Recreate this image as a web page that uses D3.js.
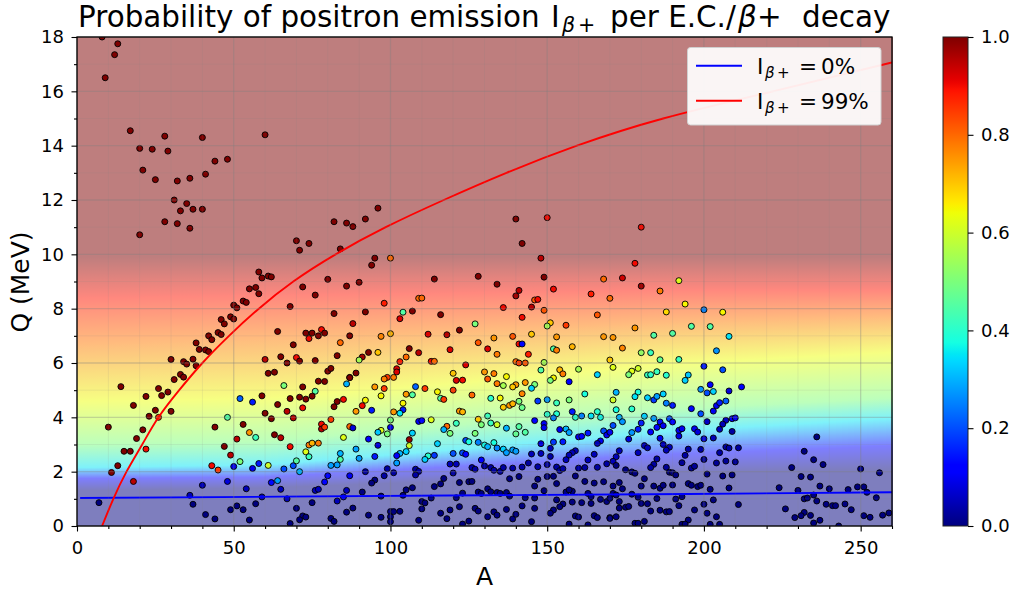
<!DOCTYPE html>
<html>
<head>
<meta charset="utf-8">
<title>Probability of positron emission</title>
<script src="https://d3js.org/d3.v7.min.js"></script>
<style>
    body{margin:0;padding:0;background:white;}
    svg{display:block;}
    text{font-family:"DejaVu Sans",sans-serif;fill:black;}
</style>
</head>
<body>
<svg id="chart" width="1018" height="592"></svg>
<script>
// each point is [A, Q in MeV, I_beta+ fraction]
var lightPoints = [
[8,18,1],[13,17.75,1],[12,17.35,1],[9,16.5,1],[17,14.55,1],[28,14.35,1],[40,14.3,1],[60,14.4,1],[20,13.9,1],[24,13.87,1],
[29,13.8,1],[48,13.5,1],[44,13.43,1],[41,12.95,1],[36,12.8,1],[32,12.7,1],[25,12.75,1],[21,13.1,1],[31,12,1],[35,11.87,1],
[33,11.6,1],[37,11.66,1],[40,11.66,1],[28,11.2,1],[32,11.13,1],[36,10.96,1],[20,10.72,1],[70,10.5,1],[74,10.4,1],[71,10.15,1],
[82,11.2,1],[84,10.2,1],[86,11.15,1],[58,9.35,1],[59,9.13,1],[61,9.2,1],[62,9.17,1],[80,9.08,1],[86,8.83,1],[55,8.73,1],
[57,8.78,1],[72,8.8,1],[7,0.86,0],[10,3.64,1],[11,1.97,1],[13,2.22,1],[14,5.13,1],[15,2.75,1],[17,2.75,1],[18,4.44,1],
[18,1.64,0.95],[19,3.22,1],[21,3.54,1],[22,2.83,0.9],[22,4.77,1],[23,4.04,1],[25,4.26,1],[26,4,0.85],[26,5.06,1],[27,4.8,1],
[29,4.93,1],[30,4.22,1],[30,6.13,1],[31,5.39,1],[33,5.58,1],[34,5.48,1],[34,6.05,1],[35,5.96,1],[37,6.14,1],[38,5.9,1],
[38,6.74,1],[39,6.5,1],[41,6.48,1],[42,6.42,1],[42,7,1],[43,6.86,1],[45,7.12,1],[46,7.05,1],[46,7.6,1],[47,7.44,1],
[49,7.7,1],[50,7.62,1],[50,8.13,1],[51,8.03,1],[53,8.28,1],[54,8.23,1],[58,8.55,1],[68,8.08,1],[76,8.5,1],[82,7.82,1],
[64,7.16,1],[73,7.1,1],[75,7.1,1],[74,6.9,0.9],[78,7.23,0.9],[77,7,1],[79,7.1,1],[84,6.75,0.8],[69,6.67,1],[83,6.27,1],
[87,7,1],[60,6.13,0.95],[65,6.23,1],[67,6,1],[70,6.2,0.9],[71,6.07,1],[76,6.09,1],[80,5.7,1],[81,5.8,1],[61,5.62,1],
[63,5.66,1],[66,5.17,0.5],[72,5.12,1],[77,5.33,1],[79,5.32,1],[86,5.23,0.3],[87,5.47,1],[76,4.96,0.45],[75,4.78,1],[71,4.74,1],
[73,4.67,1],[68,4.69,1],[59,4.79,1],[52,4.69,0.22],[56,4.56,0.15],[64,4.47,1],[85,4.66,0.9],[83,4.58,1],[82,4.39,1],[72,4.35,0.9],
[60,4.15,1],[67,4.22,0.95],[62,3.95,1],[69,3.98,0.95],[48,4,0.45],[81,3.92,0.85],[87,3.66,0.8],[78,3.75,0.9],[78,3.57,0.95],[79,3.64,0.85],
[44,3.64,1],[53,3.74,1],[55,3.44,0.75],[57,3.26,0.42],[63,3.36,1],[65,3.25,0.95],[85,3.26,0.62],[51,3.2,0.95],[47,2.93,1],[68,2.92,0.9],
[74,2.98,0.78],[75,3.05,0.72],[77,3.05,0.78],[73,2.73,0.62],[74,2.55,0.42],[49,2.61,0.95],[52,2.37,0.5],[43,2.22,0.9],[45,2.06,0.85],[50,2.19,0.1],
[56,2.12,0.1],[58,2.3,0.15],[61,2.23,0.6],[66,2.1,0.2],[69,2.22,0.2],[70,2.4,0.45],[71,2,0.3],[81,2.23,0.28],[83,2.25,0.28],[84,2.45,0.45],
[84,2.67,0.3],[87,1.85,0.1],[80,1.85,0.12],[79,1.62,0.12],[62,1.6,0.13],[64,1.67,0.28],[48,1.64,0.08],[40,1.5,0.05],[65,1.35,0.05],[54,1.37,0.05],
[76,1.31,0.05],[77,1.35,0.05],[86,1.31,0.05],[36,1.13,0.05],[59,1.07,0.05],[67,1,0.05],[85,1.07,0.1],[83,0.92,0.05],[37,0.8,0],[57,0.82,0],
[75,0.86,0],[51,0.74,0],[70,0.65,0],[49,0.6,0],[53,0.6,0],[86,0.51,0],[41,0.42,0],[44,0.26,0],[55,0.22,0],[72,0.37,0],
[73,0.33,0],[71,0.23,0],[81,0.28,0],[82,0.17,0],[68,0.09,0]
];

var midPoints = [
[96,11.7,1],[92,11.3,1],[88,11.02,1],[95,9.86,1],[100,9.86,0.8],[94,9.6,1],[90,8.97,1],[114,9.09,1],[128,9.19,1],[134,8.9,1],
[140,11.3,1],[150,11.35,0.9],[142,10.4,1],[148,9.86,0.95],[149,9.16,1],[141,8.67,0.95],[140,8.47,0.97],[168,9.09,0.8],[152,8.72,0.9],[164,8.54,0.88],
[170,8.38,0.8],[146,8.32,0.82],[147,8.34,0.9],[145,8.06,0.95],[136,8.04,0.9],[149,7.94,0.82],[166,7.77,0.82],[142,7.68,0.9],[109,8.38,0.8],[110,8.39,0.8],
[98,8.2,0.88],[92,7.88,1],[104,7.87,0.45],[107,7.91,1],[103,7.63,0.92],[116,7.78,1],[88,7.45,0.95],[127,7.44,0.5],[122,7.21,1],[112,7.06,0.92],
[118,7.04,0.95],[97,6.98,0.77],[100,7.08,0.72],[128,6.75,0.82],[133,6.92,0.75],[139,6.98,0.82],[145,7.06,0.7],[151,7.48,0.7],[150,7.36,0.55],[156,7.39,0.85],
[153,6.96,0.75],[168,6.97,0.75],[171,6.94,0.75],[158,6.6,0.72],[152,6.52,0.45],[153,6.47,0.78],[141,6.7,0.9],[142,6.7,0.12],[131,6.52,0.92],[119,6.49,0.92],
[134,6.32,0.78],[144,6.32,0.88],[106,6.53,1],[109,6.38,0.95],[96,6.39,0.7],[93,6.39,1],[91,6.22,0.97],[90,6.11,0.55],[105,6.22,0.8],[103,6.05,0.88],
[113,6.06,0.9],[114,6.06,0.8],[124,5.93,0.92],[140,6.05,0.8],[141,6,0.85],[143,6,0.82],[149,6.02,0.55],[148,5.74,0.45],[170,6.11,0.7],[171,5.84,0.62],
[160,5.77,0.55],[154,5.75,0.72],[155,5.6,0.78],[166,5.57,0.33],[130,5.67,0.75],[133,5.61,0.78],[137,5.5,0.65],[120,5.62,0.7],[102,5.79,0.92],[102,5.67,0.92],
[101,5.47,0.78],[99,5.47,0.85],[98,5.41,0.78],[89,5.63,1],[87,5.46,1],[131,5.41,0.82],[121,5.36,0.92],[123,5.37,0.9],[152,5.45,0.65],[151,5.36,0.5],
[157,5.31,0.12],[134,5.24,0.78],[136,5.17,0.55],[140,5.2,0.75],[139,5.12,0.7],[143,5.28,0.75],[146,5.21,0.5],[145,5.07,0.33],[95,5.12,0.75],[98,5.06,0.85],
[108,5.13,0.22],[111,5.06,0.85],[115,4.94,0.65],[120,5,0.85],[97,4.79,0.65],[105,4.85,0.75],[107,4.83,0.45],[126,4.82,0.8],[116,4.7,0.45],[117,4.66,0.85],
[132,4.7,0.4],[135,4.71,0.65],[142,4.87,0.77],[147,4.6,0.18],[150,4.65,0.28],[162,4.86,0.38],[157,4.64,0.5],[153,4.53,0.42],[172,4.92,0.3],[171,4.64,0.6],
[92,4.63,0.65],[91,4.43,0.9],[94,4.26,0.15],[89,4.22,0.75],[104,4.52,0.65],[104,4.28,0.15],[103,4.15,0.35],[101,4.2,0.75],[122,4.23,0.75],[123,4.2,0.72],
[136,4.37,0.7],[138,4.44,0.75],[139,4.5,0.72],[141,4.59,0.5],[142,4.36,0.48],[131,4.05,0.42],[158,4.21,0.15],[153,4.13,0.4],[150,4.11,0.4],[152,3.98,0.25],
[161,4.05,0.25],[159,4,0.4],[164,4.05,0.35],[166,4.21,0.4],[167,4,0.37],[172,4.28,0.38],[173,4,0.3],[109,3.85,0.12],[110,3.88,0.12],[113,3.91,0.62],
[100,3.9,0.5],[88,3.61,0.08],[128,3.93,0.7],[129,3.73,0.5],[132,3.79,0.42],[134,3.73,0.6],[146,3.88,0.12],[149,3.77,0.1],[149,3.62,0.1],[171,3.7,0.2],
[118,3.67,0.8],[117,3.55,0.3],[119,3.41,0.5],[121,3.78,0.42],[100,3.63,0.1],[97,3.52,0.62],[96,3.45,0.32],[99,3.39,0.5],[107,3.42,0.33],[127,3.41,0.5],
[137,3.6,0.3],[141,3.66,0.45],[140,3.39,0.47],[143,3.45,0.45],[154,3.55,0.1],[156,3.57,0.3],[157,3.44,0.28],[163,3.42,0.15],[160,3.28,0.1],[161,3.3,0.12],
[168,3.5,0.2],[169,3.35,0.1],[170,3.45,0.1],[93,3.2,0.12],[106,3.18,0.98],[106,2.96,0.6],[96,2.97,0.08],[89,2.83,0.28],[124,3.15,0.2],[125,3.1,0.38],
[128,3.08,0.25],[130,2.98,0.37],[131,2.92,0.3],[133,3.07,0.38],[134,2.87,0.25],[136,2.83,0.33],[137,2.7,0.28],[139,2.8,0.28],[140,2.75,0.28],[152,3.09,0.18],
[155,3.1,0.15],[148,3.03,0.08],[151,2.86,0.05],[167,3.13,0.1],[166,3.04,0.05],[159,2.77,0.05],[158,2.7,0.05],[157,2.61,0.05],[156,2.44,0.05],[165,2.64,0.05],
[163,2.43,0.05],[173,2.77,0.05],[172,2.55,0.05],[171,2.38,0.05],[169,2.29,0.03],[166,2.16,0.03],[115,3.03,0.33],[112,2.58,0.4],[111,2.45,0.33],[114,2.6,0.18],
[105,2.74,0.33],[103,2.67,0.3],[102,2.59,0.12],[102,2.32,0.28],[95,2.56,0.15],[90,2.49,0.28],[120,2.67,0.2],[123,2.69,0.2],[124,2.64,0.12],[129,2.43,0.12],
[145,2.65,0.05],[148,2.67,0.05],[151,2.56,0.03],[119,2.28,0.05],[121,2.28,0.05],[126,2.15,0.03],[127,2.09,0.03],[130,2.21,0.03],[132,2.15,0.03],[133,2.05,0.03],
[135,2.01,0.03],[136,2.15,0.03],[139,2.13,0.03],[142,2.17,0.03],[144,2.32,0.03],[147,2.18,0.03],[150,2.26,0.03],[153,2.17,0.03],[154,2.04,0.03],[155,2.11,0.03],
[160,2.13,0.03],[162,2.15,0.03],[99,2.11,0.03],[108,2.09,0.03],[109,2.01,0.03],[108,1.88,0.03],[101,1.96,0.03],[92,2,0.03],[98,1.85,0.03],[120,1.95,0.03],
[117,1.75,0],[116,1.55,0],[114,1.45,0],[95,1.69,0],[94,1.58,0],[107,1.41,0],[105,1.33,0],[104,1.13,0],[97,1.1,0],[91,1.25,0],
[122,1.6,0],[125,1.63,0],[126,1.64,0],[138,1.74,0],[141,1.82,0],[147,1.72,0],[150,1.82,0],[152,1.83,0],[153,1.56,0],[146,1.47,0],
[159,1.84,0],[162,1.64,0],[165,1.58,0],[168,1.63,0],[171,1.47,0],[173,1.6,0],[131,1.37,0],[132,1.26,0],[134,1.23,0],[135,1.2,0],
[137,1.23,0],[138,1.1,0],[128,1.25,0],[129,1.2,0],[123,1.21,0],[121,1.04,0],[113,1.03,0],[143,1.04,0],[146,1.03,0],[149,1.3,0],
[156,1.25,0],[158,1.28,0],[157,1.33,0],[163,1.2,0],[164,1.08,0],[171,1.2,0],[172,1.14,0],[153,0.96,0],[155,0.81,0],[154,0.71,0],
[152,0.59,0],[151,0.47,0],[158,0.88,0],[161,0.86,0],[164,0.83,0],[167,0.98,0],[169,0.9,0],[170,1.02,0],[173,0.9,0],[88,0.66,0],
[93,0.4,0],[97,0.32,0],[100,0.53,0],[100,0.34,0],[100,0.16,0],[101,0.53,0],[103,0.54,0],[109,0.21,0],[110,0.9,0],[111,0.85,0],
[110,0.63,0],[116,0.47,0],[118,0.27,0],[119,0.59,0],[122,0.71,0],[123,0.07,0],[125,0.18,0],[127,0.65,0],[128,0.55,0],[131,0.34,0],
[133,0.52,0],[134,0.4,0],[137,0.61,0],[139,0.26,0],[140,0.43,0],[142,0.74,0],[145,0.16,0],[146,0.65,0],[157,0.07,0],[159,0.37,0],
[160,0.33,0],[163,0.04,0],[165,0.38,0],[166,0.31,0],[170,0.31,0],[172,0.34,0]
];

var heavyPoints = [
[180,11,0.9],[178,9.67,0.9],[174,9.13,0.93],[180,8.83,0.97],[192,9.03,0.62],[186,8.65,0.78],[194,8.17,0.65],[188,7.88,0.68],[200,7.96,0.25],[206,7.87,0.65],
[178,7.29,0.75],[196,7.35,0.45],[202,7.34,0.45],[184,7.02,0.45],[190,7.09,0.45],[208,6.98,0.35],[174,6.55,0.77],[204,6.45,0.27],[180,6.38,0.53],[183,6.38,0.42],
[186,6.12,0.47],[192,6.13,0.42],[200,5.88,0.15],[206,5.75,0.2],[179,5.8,0.6],[177,5.7,0.62],[176,5.57,0.5],[182,5.56,0.42],[183,5.57,0.4],[185,5.68,0.42],
[188,5.55,0.4],[195,5.56,0.32],[194,5.36,0.33],[202,5.2,0.12],[199,5.03,0.27],[201,4.9,0.2],[203,4.95,0.33],[208,4.97,0.08],[212,5.12,0.12],[179,4.93,0.38],
[178,4.76,0.35],[182,4.72,0.33],[184,4.64,0.18],[185,4.77,0.28],[187,4.86,0.33],[188,4.52,0.25],[190,4.44,0.15],[196,4.32,0.13],[199,4.13,0.2],[203,4.23,0.1],
[204,4.43,0.1],[205,4.54,0.15],[207,4.6,0.22],[177,4.31,0.4],[174,3.84,0.27],[181,4.04,0.33],[184,3.96,0.28],[186,3.83,0.13],[189,3.95,0.2],[190,3.83,0.13],
[187,3.69,0.1],[185,3.63,0.13],[180,3.79,0.15],[179,3.56,0.15],[177,3.44,0.27],[176,3.2,0.08],[183,3.46,0.12],[186,3.23,0.1],[192,3.52,0.1],[193,3.58,0.1],
[192,3.31,0.08],[197,3.58,0.1],[198,3.46,0.08],[201,3.84,0.06],[207,3.89,0.06],[209,3.95,0.1],[210,3.98,0.1],[206,3.75,0.05],[205,3.56,0.05],[209,3.48,0.03],
[203,3.24,0.05],[200,3.21,0.08],[187,3,0.05],[189,2.9,0.05],[188,2.79,0.05],[181,2.96,0.05],[182,2.88,0.05],[179,2.7,0.05],[195,2.83,0.03],[199,2.82,0.03],
[207,2.91,0.03],[208,2.87,0.03],[211,2.88,0.03],[205,2.7,0.03],[194,2.6,0.03],[185,2.47,0.03],[184,2.27,0.03],[183,2.15,0.03],[188,2.16,0.02],[193,2.33,0.02],
[196,2.13,0.02],[197,2.2,0.02],[200,2.45,0.02],[204,2.32,0.02],[207,2.39,0.02],[210,2.36,0.02],[172,2.23,0],[175,2.07,0],[177,1.99,0],[178,1.94,0],
[189,1.98,0],[190,1.96,0],[191,1.88,0],[201,1.91,0],[206,1.84,0],[209,1.88,0],[181,1.74,0],[174,1.37,0],[180,1.47,0],[184,1.47,0],
[186,1.39,0],[187,1.5,0],[190,1.51,0],[195,1.56,0],[196,1.5,0],[198,1.45,0],[199,1.5,0],[202,1.35,0],[208,1.4,0],[177,1.17,0],
[179,1.06,0],[185,1.01,0],[191,0.99,0],[193,1.08,0],[203,0.96,0],[180,0.83,0],[182,0.82,0],[192,0.75,0],[200,0.8,0],[211,0.79,0],
[173,0.66,0],[175,0.69,0],[176,0.72,0],[183,0.55,0],[186,0.58,0],[188,0.52,0],[189,0.53,0],[197,0.59,0],[201,0.47,0],[204,0.34,0],
[170,0.28,0],[195,0.22,0],[181,0.17,0],[178,0.1,0],[179,0.1,0],[193,0.06,0],[194,0.07,0],[202,0.06,0],[205,0.06,0],
[236,3.28,0],[232,2.75,0],[235,2.44,0],[238,2.26,0],[228,2.15,0],[231,1.82,0],[234,1.8,0],[250,2.1,0.01],[256,1.96,0.01],[224,1.41,0],
[237,1.47,0],[240,1.37,0],[230,1.31,0],[249,1.44,0],[251,1.44,0],[252,1.24,0],[246,1.34,0],[235,1.14,0],[232,1,0],[233,1.03,0],
[236,0.92,0],[255,1.04,0],[239,0.8,0],[241,0.75,0],[242,0.75,0],[245,0.81,0],[247,0.6,0],[226,0.63,0],[232,0.5,0],[231,0.38,0],
[229,0.31,0],[234,0.39,0],[237,0.21,0],[235,0.11,0],[243,0,0],[251,0.38,0],[253,0.32,0],[257,0.4,0],[259,0.48,0]
];

// curves from the legend
var zeroLineA = [1, 65, 130, 195, 260];
var zeroLineQ = [1.03, 1.08, 1.13, 1.18, 1.24];
var fullLineA = [8, 11.6, 15.8, 20.8, 26, 32.6, 40, 48.5, 58, 69, 82.5, 98.5, 117, 137, 159.5, 187, 222, 260];
var fullLineQ = [0, 1, 2, 3, 4, 5, 6, 7, 8, 9, 10, 11, 12, 13, 14, 15, 16, 17.06];

// background map: Q where the shading reaches each level, by column of A
var bgLevels = [0, 0.11, 0.35, 0.5, 0.64, 0.78, 0.89, 1];
var bgColumnsA = [0, 60, 130, 190, 260];
var bgQ0 = [1.3, 1.75, 2.15, 3.0, 4.6, 6.7, 8.4, 9.9];
var bgQ60 = [1.4, 1.8, 2.25, 3.1, 4.7, 6.9, 8.5, 9.9];
var bgQ130 = [1.7, 2.25, 2.9, 3.8, 5.35, 7.2, 8.6, 9.9];
var bgQ190 = [1.95, 2.65, 3.5, 4.3, 6.0, 7.5, 8.7, 9.9];
var bgQ260 = [2.1, 2.95, 3.95, 4.7, 6.4, 7.7, 8.7, 9.9];
var bgTable = [bgQ0, bgQ60, bgQ130, bgQ190, bgQ260];

var xTicks = [0, 50, 100, 150, 200, 250];
var yTicks = [0, 2, 4, 6, 8, 10, 12, 14, 16, 18];
var colorTicks = [0, 0.2, 0.4, 0.6, 0.8, 1];

var left = 77, right = 892, top_ = 37, bottom = 526;
var x = d3.scaleLinear().domain([0, 260]).range([left, right]);
var y = d3.scaleLinear().domain([0, 18]).range([bottom, top_]);
var svg = d3.select("#chart");

// matplotlib's jet
var jetR = d3.scaleLinear().domain([0.35, 0.66, 0.89, 1]).range([0, 255, 255, 127]).clamp(true);
var jetG = d3.scaleLinear().domain([0.125, 0.375, 0.64, 0.91]).range([0, 255, 255, 0]).clamp(true);
var jetB = d3.scaleLinear().domain([0, 0.11, 0.34, 0.65]).range([127, 255, 255, 0]).clamp(true);
function jet(v) {
    return "rgb(" + Math.round(jetR(v)) + "," + Math.round(jetG(v)) + "," + Math.round(jetB(v)) + ")";
}

var defs = svg.append("defs");
defs.append("clipPath").attr("id", "plot-clip").append("rect")
    .attr("x", left).attr("y", top_).attr("width", right - left).attr("height", bottom - top_);

// background, drawn as narrow columns with a vertical gradient each
var bgScales = bgLevels.map(function(lvl, i) {
    return d3.scaleLinear().domain(bgColumnsA).range(bgTable.map(function(col) { return col[i]; }));
});
var bgGroup = svg.append("g").attr("opacity", 0.5);
var columnStep = 2;
d3.range(0, 260, columnStep).forEach(function(a, n) {
    var grad = defs.append("linearGradient").attr("id", "bg" + n)
        .attr("gradientUnits", "userSpaceOnUse")
        .attr("x1", 0).attr("x2", 0).attr("y1", y(0)).attr("y2", y(18));
    bgLevels.forEach(function(lvl, i) {
        grad.append("stop").attr("offset", bgScales[i](a + columnStep / 2) / 18).attr("stop-color", jet(lvl));
    });
    bgGroup.append("rect")
        .attr("x", x(a)).attr("y", top_)
        .attr("width", x(a + columnStep) - x(a) + 0.6).attr("height", bottom - top_)
        .attr("shape-rendering", "crispEdges")
        .attr("fill", "url(#bg" + n + ")");
});

// scatter
var allPoints = lightPoints.concat(midPoints, heavyPoints);
svg.append("g").attr("clip-path", "url(#plot-clip)")
    .selectAll("circle").data(allPoints).enter().append("circle")
    .attr("cx", function(d) { return x(d[0]); })
    .attr("cy", function(d) { return y(d[1]); })
    .attr("r", 3)
    .attr("fill", function(d) { return jet(d[2]); })
    .attr("stroke", "black")
    .attr("stroke-width", 0.9);

// lines
var line = d3.line().x(function(d) { return x(d[0]); }).y(function(d) { return y(d[1]); });
var curved = d3.line().x(function(d) { return x(d[0]); }).y(function(d) { return y(d[1]); }).curve(d3.curveNatural);
var lineGroup = svg.append("g").attr("clip-path", "url(#plot-clip)");
lineGroup.append("path").attr("d", line(d3.zip(zeroLineA, zeroLineQ)))
    .attr("fill", "none").attr("stroke", "#0000ff").attr("stroke-width", 1.9);
lineGroup.append("path").attr("d", curved(d3.zip(fullLineA, fullLineQ)))
    .attr("fill", "none").attr("stroke", "#ff0000").attr("stroke-width", 1.9);

// grid
function drawGrid(xValues, yValues, color, width) {
    var g = svg.append("g");
    g.selectAll(".v").data(xValues).enter().append("line")
        .attr("x1", function(d) { return x(d); }).attr("x2", function(d) { return x(d); })
        .attr("y1", top_).attr("y2", bottom)
        .attr("stroke", color).attr("stroke-width", width);
    g.selectAll(".h").data(yValues).enter().append("line")
        .attr("y1", function(d) { return y(d); }).attr("y2", function(d) { return y(d); })
        .attr("x1", left).attr("x2", right)
        .attr("stroke", color).attr("stroke-width", width);
}
var xMinor = d3.range(0, 261, 10).filter(function(d) { return d % 50 != 0; });
var yMinor = d3.range(0, 19, 1).filter(function(d) { return d % 2 != 0; });
drawGrid(xMinor, yMinor, "rgba(128,128,128,0.12)", 1);
drawGrid(xTicks, yTicks, "rgba(128,128,128,0.33)", 1.3);

// axes
var xAxis = svg.append("g").attr("transform", "translate(0," + bottom + ")")
    .call(d3.axisBottom(x).tickValues(xTicks).tickSize(5.5).tickPadding(9.5).tickFormat(d3.format("d")));
var xAxisMinor = svg.append("g").attr("transform", "translate(0," + bottom + ")")
    .call(d3.axisBottom(x).tickValues(xMinor).tickSize(3).tickFormat(""));
var yAxis = svg.append("g").attr("transform", "translate(" + left + ",0)")
    .call(d3.axisLeft(y).tickValues(yTicks).tickSize(5.5).tickPadding(7.5).tickFormat(d3.format("d")));
var yAxisMinor = svg.append("g").attr("transform", "translate(" + left + ",0)")
    .call(d3.axisLeft(y).tickValues(yMinor).tickSize(3).tickFormat(""));
[xAxis, xAxisMinor, yAxis, yAxisMinor].forEach(function(a) {
    a.select(".domain").remove();
    a.selectAll("line").attr("stroke", "black").attr("stroke-width", 1.1);
    a.selectAll("text").attr("font-size", 18).style("font-family", '"DejaVu Sans"');
});
svg.append("rect").attr("x", left).attr("y", top_).attr("width", right - left).attr("height", bottom - top_)
    .attr("fill", "none").attr("stroke", "black").attr("stroke-width", 1.3);

// I with the beta+ subscript, placed by hand like mathtext does it
function addSubscript(t, size, baseline, xI, xBeta, xPlus) {
    var sub = size * 0.7;
    t.append("tspan").text("I").attr("x", xI).attr("y", baseline);
    t.append("tspan").text("β").attr("font-style", "italic").attr("font-size", sub).attr("x", xBeta).attr("y", baseline + size * 0.17);
    t.append("tspan").text("+").attr("font-size", sub).attr("x", xPlus).attr("y", baseline + size * 0.17);
}

var titleBase = 27.4;
var title = svg.append("text").attr("font-size", 29.4);
title.append("tspan").text("Probability of positron emission").attr("x", 78).attr("y", titleBase);
addSubscript(title, 29.4, titleBase, 551, 562, 578);
title.append("tspan").text("per E.C./").attr("x", 610).attr("y", titleBase);
title.append("tspan").text("β").attr("font-style", "italic").attr("x", 738).attr("y", titleBase);
title.append("tspan").text("+").attr("x", 757).attr("y", titleBase);
title.append("tspan").text("decay").attr("x", 802).attr("y", titleBase);

svg.append("text").attr("x", 484.5).attr("y", 585).attr("text-anchor", "middle").attr("font-size", 25).text("A");
svg.append("text").attr("transform", "translate(29,282) rotate(-90)").attr("text-anchor", "middle").attr("font-size", 25).text("Q (MeV)");

// legend
svg.append("rect").attr("x", 687.5).attr("y", 47.5).attr("width", 193.5).attr("height", 77.5).attr("rx", 3)
    .attr("fill", "rgba(255,255,255,0.92)").attr("stroke", "#d0d0d0").attr("stroke-width", 1);
var legendLabels = ["0%", "99%"];
var legendColors = ["#0000ff", "#ff0000"];
var legendY = [65.7, 100.7];
legendLabels.forEach(function(lab, i) {
    svg.append("line").attr("x1", 696).attr("x2", 742).attr("y1", legendY[i]).attr("y2", legendY[i])
        .attr("stroke", legendColors[i]).attr("stroke-width", 1.9);
    var base = legendY[i] + 8.3;
    var t = svg.append("text").attr("font-size", 21.5);
    addSubscript(t, 21.5, base, 757, 765, 777);
    t.append("tspan").text("=").attr("x", 799).attr("y", base);
    t.append("tspan").text(lab).attr("x", 821).attr("y", base);
});

// colorbar
var cTop = 37, cBottom = 526, cLeft = 943, cRight = 968;
var cScale = d3.scaleLinear().domain([0, 1]).range([cBottom, cTop]);
var cGrad = defs.append("linearGradient").attr("id", "jetbar")
    .attr("x1", 0).attr("x2", 0).attr("y1", 1).attr("y2", 0);
d3.range(0, 1.0001, 1 / 128).forEach(function(v) {
    cGrad.append("stop").attr("offset", v).attr("stop-color", jet(v));
});
svg.append("rect").attr("x", cLeft).attr("y", cTop).attr("width", cRight - cLeft).attr("height", cBottom - cTop)
    .attr("fill", "url(#jetbar)").attr("stroke", "#222").attr("stroke-width", 1);
var cAxis = svg.append("g").attr("transform", "translate(" + cRight + ",0)")
    .call(d3.axisRight(cScale).tickValues(colorTicks).tickSize(5.5).tickPadding(7.5).tickFormat(d3.format(".1f")));
cAxis.select(".domain").remove();
cAxis.selectAll("line").attr("stroke", "black").attr("stroke-width", 1.1);
cAxis.selectAll("text").attr("font-size", 18).style("font-family", '"DejaVu Sans"');
</script>
</body>
</html>
